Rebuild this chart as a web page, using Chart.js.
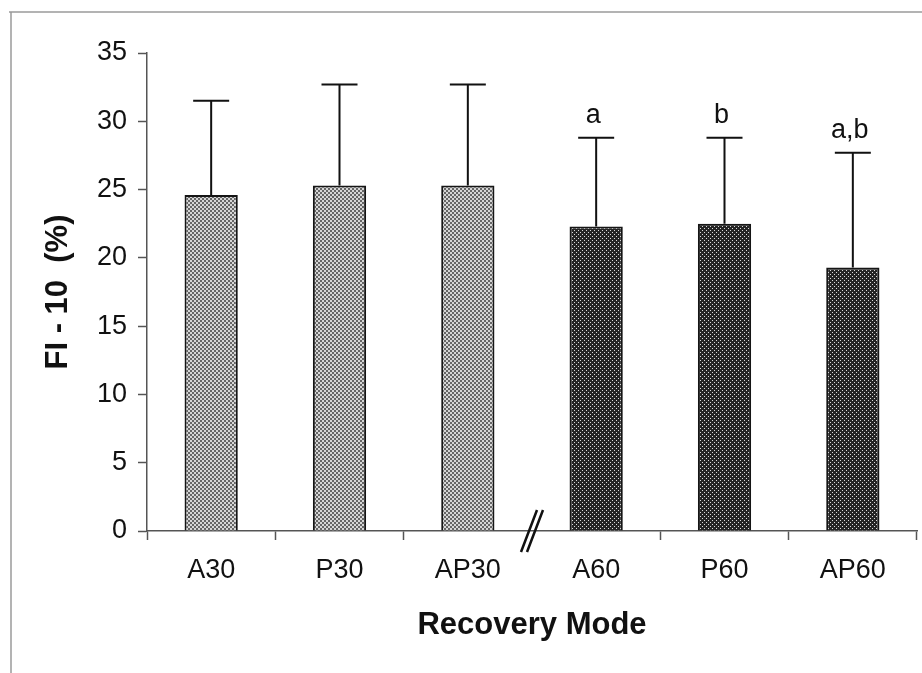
<!DOCTYPE html>
<html>
<head>
<meta charset="utf-8">
<script src="https://cdn.jsdelivr.net/npm/chart.js@4.4.1/dist/chart.umd.min.js"></script>
<style>
  html, body { margin: 0; padding: 0; background: #fff; }
  #wrap { width: 922px; height: 673px; }
</style>
</head>
<body>
<div id="wrap"><canvas id="fiChart" width="922" height="673"></canvas></div>
<script>
// Data
const modes = ["A30", "P30", "AP30", "A60", "P60", "AP60"];
const fiMean = [24.6, 25.3, 25.3, 22.3, 22.5, 19.3];
const fiSD = [6.9, 7.4, 7.4, 6.5, 6.3, 8.4];
const sigLetters = ["", "", "", "a", "b", "a,b"];
const yTicks = [0, 5, 10, 15, 20, 25, 30, 35];

const FONT = "'Liberation Sans', Arial, sans-serif";

// dotted fill patterns like the printed bars
function makePattern(bg, dot, checker) {
    const c = document.createElement('canvas');
    c.width = 4; c.height = 4;
    const g = c.getContext('2d');
    g.fillStyle = bg;
    g.fillRect(0, 0, 4, 4);
    g.fillStyle = dot;
    if (checker) {
        g.fillRect(0, 0, 2, 2);
        g.fillRect(2, 2, 2, 2);
    } else {
        g.fillRect(0, 0, 1, 1);
        g.fillRect(2, 2, 1, 1);
    }
    return g.createPattern(c, 'repeat');
}
const lightFill = makePattern('#d6d6d6', '#666666', true);
const darkFill = makePattern('#242424', '#dadada', false);
const barFills = modes.map((m, i) => i < 3 ? lightFill : darkFill);

// error bars, letters, axis break and the scanned frame
const extrasPlugin = {
    id: 'extras',
    beforeDraw(chart) {
        const ctx = chart.ctx;
        ctx.save();
        ctx.strokeStyle = '#9a9a9a';
        ctx.lineWidth = 1.5;
        ctx.beginPath();
        ctx.moveTo(9, 12);
        ctx.lineTo(922, 12);
        ctx.moveTo(11, 12);
        ctx.lineTo(11, 673);
        ctx.stroke();
        ctx.restore();
    },
    afterDatasetsDraw(chart) {
        const ctx = chart.ctx;
        const yScale = chart.scales.y;
        const xScale = chart.scales.x;
        const meta = chart.getDatasetMeta(0);
        ctx.save();
        ctx.strokeStyle = '#111';
        ctx.lineWidth = 2;
        meta.data.forEach((bar, i) => {
            const top = yScale.getPixelForValue(fiMean[i] + fiSD[i]);
            ctx.beginPath();
            ctx.moveTo(bar.x, bar.y);
            ctx.lineTo(bar.x, top);
            ctx.moveTo(bar.x - 18, top);
            ctx.lineTo(bar.x + 18, top);
            ctx.stroke();
            if (sigLetters[i]) {
                ctx.fillStyle = '#111';
                ctx.font = '27px ' + FONT;
                ctx.textAlign = 'center';
                ctx.textBaseline = 'bottom';
                ctx.fillText(sigLetters[i], bar.x - 3, top - 9);
            }
        });
        // axis break between the 30 s and 60 s groups
        const bx = (xScale.getPixelForValue(2) + xScale.getPixelForValue(3)) / 2;
        const by = yScale.getPixelForValue(0);
        ctx.lineWidth = 2.5;
        ctx.beginPath();
        [-3, 3].forEach(dx => {
            ctx.moveTo(bx + dx - 8, by + 21);
            ctx.lineTo(bx + dx + 8, by - 21);
        });
        ctx.stroke();
        ctx.restore();
    }
};

const ctx = document.getElementById('fiChart').getContext('2d');
const fiChart = new Chart(ctx, {
    type: 'bar',
    data: {
        labels: modes,
        datasets: [{
            label: 'FI - 10',
            data: fiMean,
            backgroundColor: barFills,
            borderColor: '#151515',
            borderWidth: 2,
            barPercentage: 0.415,
            categoryPercentage: 1
        }]
    },
    options: {
        responsive: false,
        animation: false,
        layout: { padding: { left: 20, right: 5, top: 53, bottom: 0 } },
        plugins: {
            legend: { display: false },
            tooltip: { enabled: false }
        },
        scales: {
            x: {
                offset: true,
                grid: {
                    offset: true,
                    drawOnChartArea: false,
                    tickLength: 9,
                    tickWidth: 1.5,
                    tickColor: c => c.index === 3 ? 'rgba(0,0,0,0)' : '#555'
                },
                border: { color: '#555', width: 1.5 },
                ticks: {
                    color: '#111',
                    padding: 14,
                    maxRotation: 0,
                    font: { family: FONT, size: 27 }
                },
                title: {
                    display: true,
                    text: 'Recovery Mode',
                    color: '#111',
                    padding: { top: 0, bottom: 29 },
                    font: { family: FONT, size: 31, weight: 'bold' }
                },
                afterFit: s => { s.height = 142; }
            },
            y: {
                min: 0,
                max: 35,
                afterBuildTicks: s => { s.ticks = yTicks.map(v => ({ value: v })); },
                grid: {
                    drawOnChartArea: false,
                    tickLength: 9,
                    tickWidth: 1.5,
                    tickColor: '#555'
                },
                border: { color: '#555', width: 1.5 },
                ticks: {
                    color: '#111',
                    padding: 11,
                    font: { family: FONT, size: 27 }
                },
                title: {
                    display: true,
                    text: 'FI - 10  (%)',
                    color: '#111',
                    padding: { top: 20, bottom: 0 },
                    font: { family: FONT, size: 31, weight: 'bold' }
                },
                afterFit: s => { s.width = 127; }
            }
        }
    },
    plugins: [extrasPlugin]
});
</script>
</body>
</html>
